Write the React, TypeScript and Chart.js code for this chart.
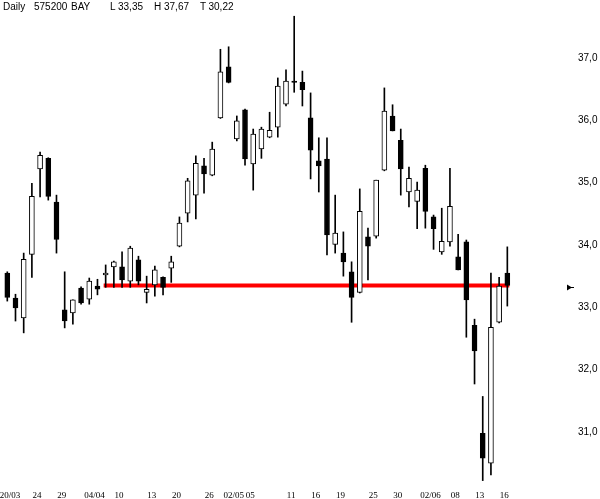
import { useEffect, useRef } from "react";
import { Chart, registerables } from "chart.js";

Chart.register(...registerables);

// BAY daily candles, 20/03 - 16/06
const opens = [
  33.55, 33.15, 32.83, 33.85, 35.22, 35.39, 34.69, 32.96, 32.91, 33.31,
  33.13, 33.34, 33.52, 33.65, 33.65, 33.42, 33.76, 33.24, 33.36, 33.48,
  33.63, 33.98, 34.51, 34.8, 35.27, 35.12, 36.04, 36.86, 35.7, 36.17,
  35.3, 35.54, 35.73, 35.89, 36.26, 36.63, 36.61, 36.04, 35.35, 35.38,
  34.01, 33.87, 33.57, 33.24, 34.13, 34.14, 35.2, 36.07, 35.68, 34.85,
  34.7, 35.23, 34.45, 33.89, 34.05, 33.81, 34.05, 32.71, 30.98, 30.5,
  32.76, 33.55,
];
const highs = [
  33.57, 33.21, 33.87, 34.99, 35.49, 35.4, 34.8, 33.57, 33.12, 33.33,
  33.47, 33.45, 33.68, 33.74, 33.89, 33.98, 33.82, 33.5, 33.66, 33.49,
  33.82, 34.45, 35.07, 35.43, 35.39, 35.65, 37.14, 37.18, 36.07, 36.18,
  35.86, 35.89, 36.13, 36.68, 36.81, 37.67, 36.79, 36.44, 35.72, 35.72,
  34.8, 34.21, 33.73, 34.9, 34.27, 35.04, 36.52, 36.25, 35.86, 35.25,
  35.01, 35.28, 34.48, 34.59, 35.23, 34.17, 34.08, 32.81, 31.57, 33.55,
  33.48, 33.97,
];
const lows = [
  33.1, 32.78, 32.59, 33.48, 34.77, 34.72, 33.87, 32.67, 32.73, 33.05,
  33.05, 33.2, 33.32, 33.32, 33.32, 33.32, 33.36, 33.07, 33.18, 33.2,
  33.4, 33.97, 34.37, 34.42, 34.83, 35.11, 36.03, 36.6, 35.67, 35.28,
  34.88, 35.39, 35.72, 35.73, 36.23, 36.45, 36.23, 35.06, 34.85, 33.84,
  33.87, 33.5, 32.76, 33.23, 33.44, 34.11, 35.19, 35.83, 34.8, 34.61,
  34.26, 34.27, 33.93, 33.85, 33.98, 33.6, 32.52, 31.77, 30.22, 30.31,
  32.75, 33.02,
];
const closes = [
  33.16, 32.99, 33.77, 34.78, 35.44, 34.78, 34.09, 32.78, 33.12, 33.07,
  33.42, 33.29, 33.55, 33.73, 33.44, 33.95, 33.42, 33.29, 33.6, 33.32,
  33.73, 34.35, 35.03, 35.31, 35.14, 35.54, 36.78, 36.61, 35.99, 35.38,
  35.78, 35.86, 35.84, 36.55, 36.63, 36.61, 36.49, 35.52, 35.27, 34.16,
  34.19, 33.73, 33.16, 34.54, 33.98, 35.04, 36.15, 35.83, 35.22, 35.07,
  34.88, 34.54, 34.26, 34.06, 34.62, 33.6, 33.12, 32.3, 30.58, 32.68,
  33.34, 33.35,
];

// date labels and the candle they sit under
const dateLabels = [
  "20/03", "24", "29", "04/04", "10", "13", "20", "26", "02/05", "05",
  "11", "16", "19", "25", "30", "02/06", "08", "13", "16",
];
const dateIndex = [0.7, 4, 7, 11, 14, 18, 21, 25, 28, 30, 35, 38, 41, 45, 48, 52, 55, 58, 61];

const priceTicks = [31, 32, 33, 34, 35, 36, 37];

// horizontal line at the last price
const supportLevel = 33.35;
const supportFrom = 12;
const supportTo = 61;

const fmt = (v: number, d = 2) => v.toFixed(d).replace(".", ",");

const lastMarker = {
  id: "lastMarker",
  afterDraw(chart: any) {
    const { ctx, chartArea, scales } = chart;
    const y = Math.round(scales.y.getPixelForValue(closes[closes.length - 1])) + 1.5;
    const x = chartArea.right + 55;
    ctx.save();
    ctx.fillStyle = "#000";
    ctx.beginPath();
    ctx.moveTo(x, y - 3);
    ctx.lineTo(x + 5, y);
    ctx.lineTo(x, y + 3);
    ctx.closePath();
    ctx.fill();
    ctx.fillRect(x + 4, y - 0.5, 3, 1);
    ctx.restore();
  },
};

export default function App() {
  const canvasRef = useRef<HTMLCanvasElement | null>(null);
  const chartRef = useRef<Chart | null>(null);

  useEffect(() => {
    if (!canvasRef.current) return;

    const idx = closes.map((_, i) => i);

    chartRef.current = new Chart(canvasRef.current, {
      type: "bar",
      data: {
        datasets: [
          {
            type: "line",
            data: [
              { x: supportFrom, y: supportLevel },
              { x: supportTo, y: supportLevel },
            ],
            borderColor: "#ff0000",
            borderWidth: 4,
            borderCapStyle: "square",
            pointRadius: 0,
            order: 3,
          } as any,
          {
            data: idx.map((i) => ({ x: i, y: [lows[i], highs[i]] })),
            backgroundColor: "#000",
            borderWidth: 0,
            barThickness: 1,
            grouped: false,
            order: 2,
          },
          {
            data: idx.map((i) => ({ x: i, y: [opens[i], closes[i]] })),
            backgroundColor: idx.map((i) => (closes[i] >= opens[i] ? "#fff" : "#000")),
            borderColor: "#000",
            borderWidth: 1,
            borderSkipped: false,
            barThickness: 5,
            grouped: false,
            order: 1,
          },
        ],
      } as any,
      options: {
        responsive: true,
        maintainAspectRatio: false,
        animation: false,
        layout: { padding: 0 },
        plugins: {
          legend: { display: false },
          tooltip: { enabled: false },
        },
        scales: {
          x: {
            type: "linear",
            offset: false,
            min: -0.89,
            max: 61.57,
            grid: { display: false, drawTicks: false },
            border: { display: false },
            afterBuildTicks: (scale: any) => {
              scale.ticks = dateIndex.map((v) => ({ value: v }));
            },
            afterFit: (scale: any) => {
              scale.height = 17;
              scale.paddingLeft = 0;
              scale.paddingRight = 0;
            },
            ticks: {
              autoSkip: false,
              maxRotation: 0,
              padding: 8,
              labelOffset: -3,
              color: "#000",
              font: { family: "'Liberation Serif', serif", size: 9 },
              callback: (v: any) => {
                const k = dateIndex.indexOf(Number(v));
                return k >= 0 ? dateLabels[k] : "";
              },
            },
          },
          y: {
            position: "right",
            beginAtZero: false,
            min: 30.1975,
            max: 37.9305,
            grid: { display: false, drawTicks: false },
            border: { display: false },
            afterBuildTicks: (scale: any) => {
              scale.ticks = priceTicks.map((v) => ({ value: v }));
            },
            afterFit: (scale: any) => {
              scale.width = 88;
              scale.paddingTop = 0;
              scale.paddingBottom = 0;
            },
            ticks: {
              padding: 66,
              color: "#000",
              font: { family: "'Liberation Sans', Arial, sans-serif", size: 10 },
              callback: (v: any) => fmt(Number(v), 1),
            },
          },
        },
      } as any,
      plugins: [lastMarker],
    });

    return () => {
      chartRef.current?.destroy();
      chartRef.current = null;
    };
  }, []);

  const last = closes[closes.length - 1];
  const hi = Math.max(...highs);
  const lo = Math.min(...lows);

  const header: [string, number][] = [
    ["Daily", 3],
    ["575200", 34],
    ["BAY", 71],
    ["L", 110],
    [fmt(last), 118],
    ["H", 154],
    [fmt(hi), 164],
    ["T", 200],
    [fmt(lo), 208.5],
  ];

  return (
    <div
      style={{
        position: "fixed",
        left: 0,
        top: 0,
        width: 600,
        height: 499,
        background: "#fff",
      }}
    >
      <canvas ref={canvasRef} />
      {header.map(([t, x], i) => (
        <span
          key={i}
          style={{
            position: "absolute",
            left: x,
            top: 1,
            font: "10px 'Liberation Sans', Arial, sans-serif",
            color: "#000",
            whiteSpace: "pre",
          }}
        >
          {t}
        </span>
      ))}
    </div>
  );
}
